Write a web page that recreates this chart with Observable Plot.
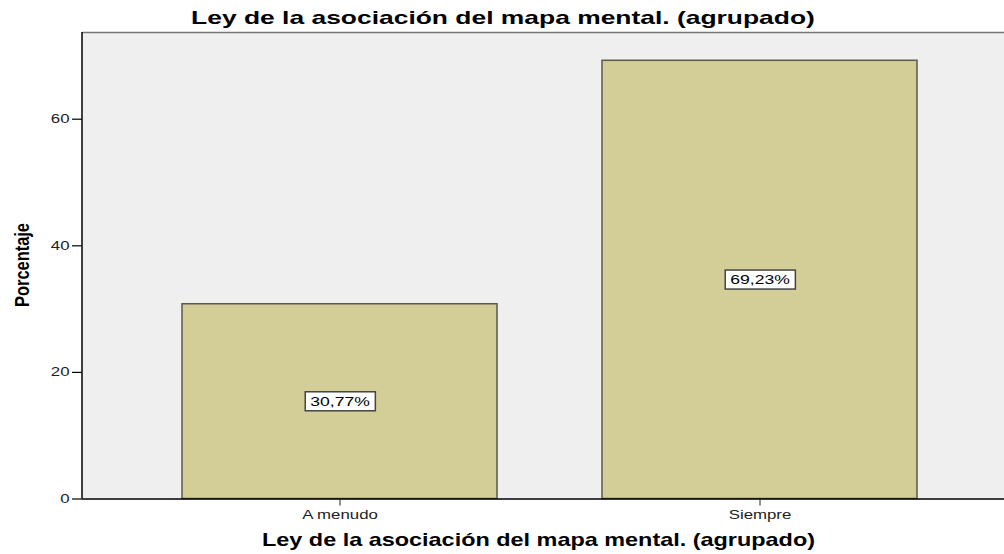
<!DOCTYPE html>
<html><head><meta charset="utf-8">
<script src="https://cdn.jsdelivr.net/npm/d3@7"></script>
<script src="https://cdn.jsdelivr.net/npm/@observablehq/plot@0.6"></script>
<style>
body{margin:0;background:#fff;width:1004px;height:554px;overflow:hidden;font-family:"Liberation Sans",Arial,sans-serif;}
#title{height:30px;position:relative;text-align:center;color:#000;}
#title span{position:absolute;left:503px;top:7px;transform:translateX(-50%) scaleX(1.39);font-weight:bold;font-size:19px;line-height:22px;white-space:nowrap;}
#wrap{position:relative;}
#ylab{position:absolute;left:22px;top:235px;transform:translate(-50%,-50%) rotate(-90deg) scaleX(0.82);font-weight:bold;font-size:20px;line-height:22px;color:#000;white-space:nowrap;}
</style></head>
<body>
<div id="title"><span id="tt"></span></div>
<div id="wrap"><div id="ylab"></div><div id="chart"></div></div>
<script>
const titleText = "Ley de la asociación del mapa mental. (agrupado)";
const xLabel = "Ley de la asociación del mapa mental. (agrupado)";
const yLabel = "Porcentaje";
const categories = ["A menudo", "Siempre"];
const percents = [30.77, 69.23];
const yTicks = [0, 20, 40, 60];

document.getElementById("tt").textContent = titleText;
document.getElementById("ylab").textContent = yLabel;

const data = categories.map((c, i) => ({cat: c, pct: percents[i], label: percents[i].toFixed(2).replace(".", ",") + "%"}));

const chart = Plot.plot({
  width: 1004,
  height: 524,
  marginLeft: 82,
  marginRight: 0,
  marginTop: 2,
  marginBottom: 55.5,
  style: {fontFamily: "'Liberation Sans', Arial, sans-serif", background: "transparent", overflow: "visible"},
  x: {domain: categories, paddingInner: 0.25, paddingOuter: 0.222, align: 0.533, label: null},
  y: {domain: [0, 73.7], label: null},
  marks: [
    Plot.frame({fill: "#efefef", stroke: null}),
    Plot.barY(data, {x: "cat", y: "pct", fill: "#d3ce97", stroke: "#5a5a4a", strokeWidth: 1.5}),
    Plot.ruleY([73.7], {stroke: "#777", strokeWidth: 1.5}),
    Plot.ruleY([0], {stroke: "#000", strokeWidth: 1.5}),
    Plot.axisY({ticks: yTicks, tickSize: 10, tickPadding: 3, fontSize: 12, color: "#222", stroke: "#000", strokeWidth: 1.2, className: "yax"}),
    Plot.axisX({tickSize: 7, tickPadding: 4, fontSize: 12, color: "#222", label: xLabel, labelAnchor: "center", labelArrow: "none", labelOffset: 47, className: "xax"}),
    Plot.text(data, {x: "cat", y: d => d.pct / 2, text: "label", fontSize: 13, fill: "#000", className: "vlab"})
  ]
});
document.getElementById("chart").appendChild(chart);

const svg = d3.select(chart);
// left axis line
svg.append("line").attr("x1", 82).attr("x2", 82).attr("y1", 2).attr("y2", 524 - 55.5).attr("stroke", "#000").attr("stroke-width", 1.5);

function stretch(sel, f) {
  sel.each(function() {
    const w = this.getComputedTextLength();
    d3.select(this).attr("textLength", w * f).attr("lengthAdjust", "spacingAndGlyphs");
  });
}

// x axis label style
const xl = svg.selectAll("g[aria-label='x-axis label'] text")
  .attr("font-weight", "bold").attr("font-size", 18.5).attr("fill", "#000").attr("dx", -5);
xl.each(function() { d3.select(this).attr("textLength", 553).attr("lengthAdjust", "spacingAndGlyphs"); });

stretch(svg.selectAll("g[aria-label='y-axis tick label'] text"), 1.4);
stretch(svg.selectAll("g[aria-label='x-axis tick label'] text"), 1.4);

// boxes behind value labels
svg.selectAll("g.vlab text").each(function() {
  const w = this.getComputedTextLength();
  d3.select(this).attr("textLength", w * 1.35).attr("lengthAdjust", "spacingAndGlyphs");
  const b = this.getBBox();
  d3.select(this.parentNode).insert("rect", () => this)
    .attr("transform", this.getAttribute("transform"))
    .attr("x", b.x - 5).attr("y", b.y - 2).attr("width", b.width + 10).attr("height", b.height + 4)
    .attr("fill", "#fff").attr("stroke", "#444").attr("stroke-width", 1.5);
});
</script>
</body></html>
